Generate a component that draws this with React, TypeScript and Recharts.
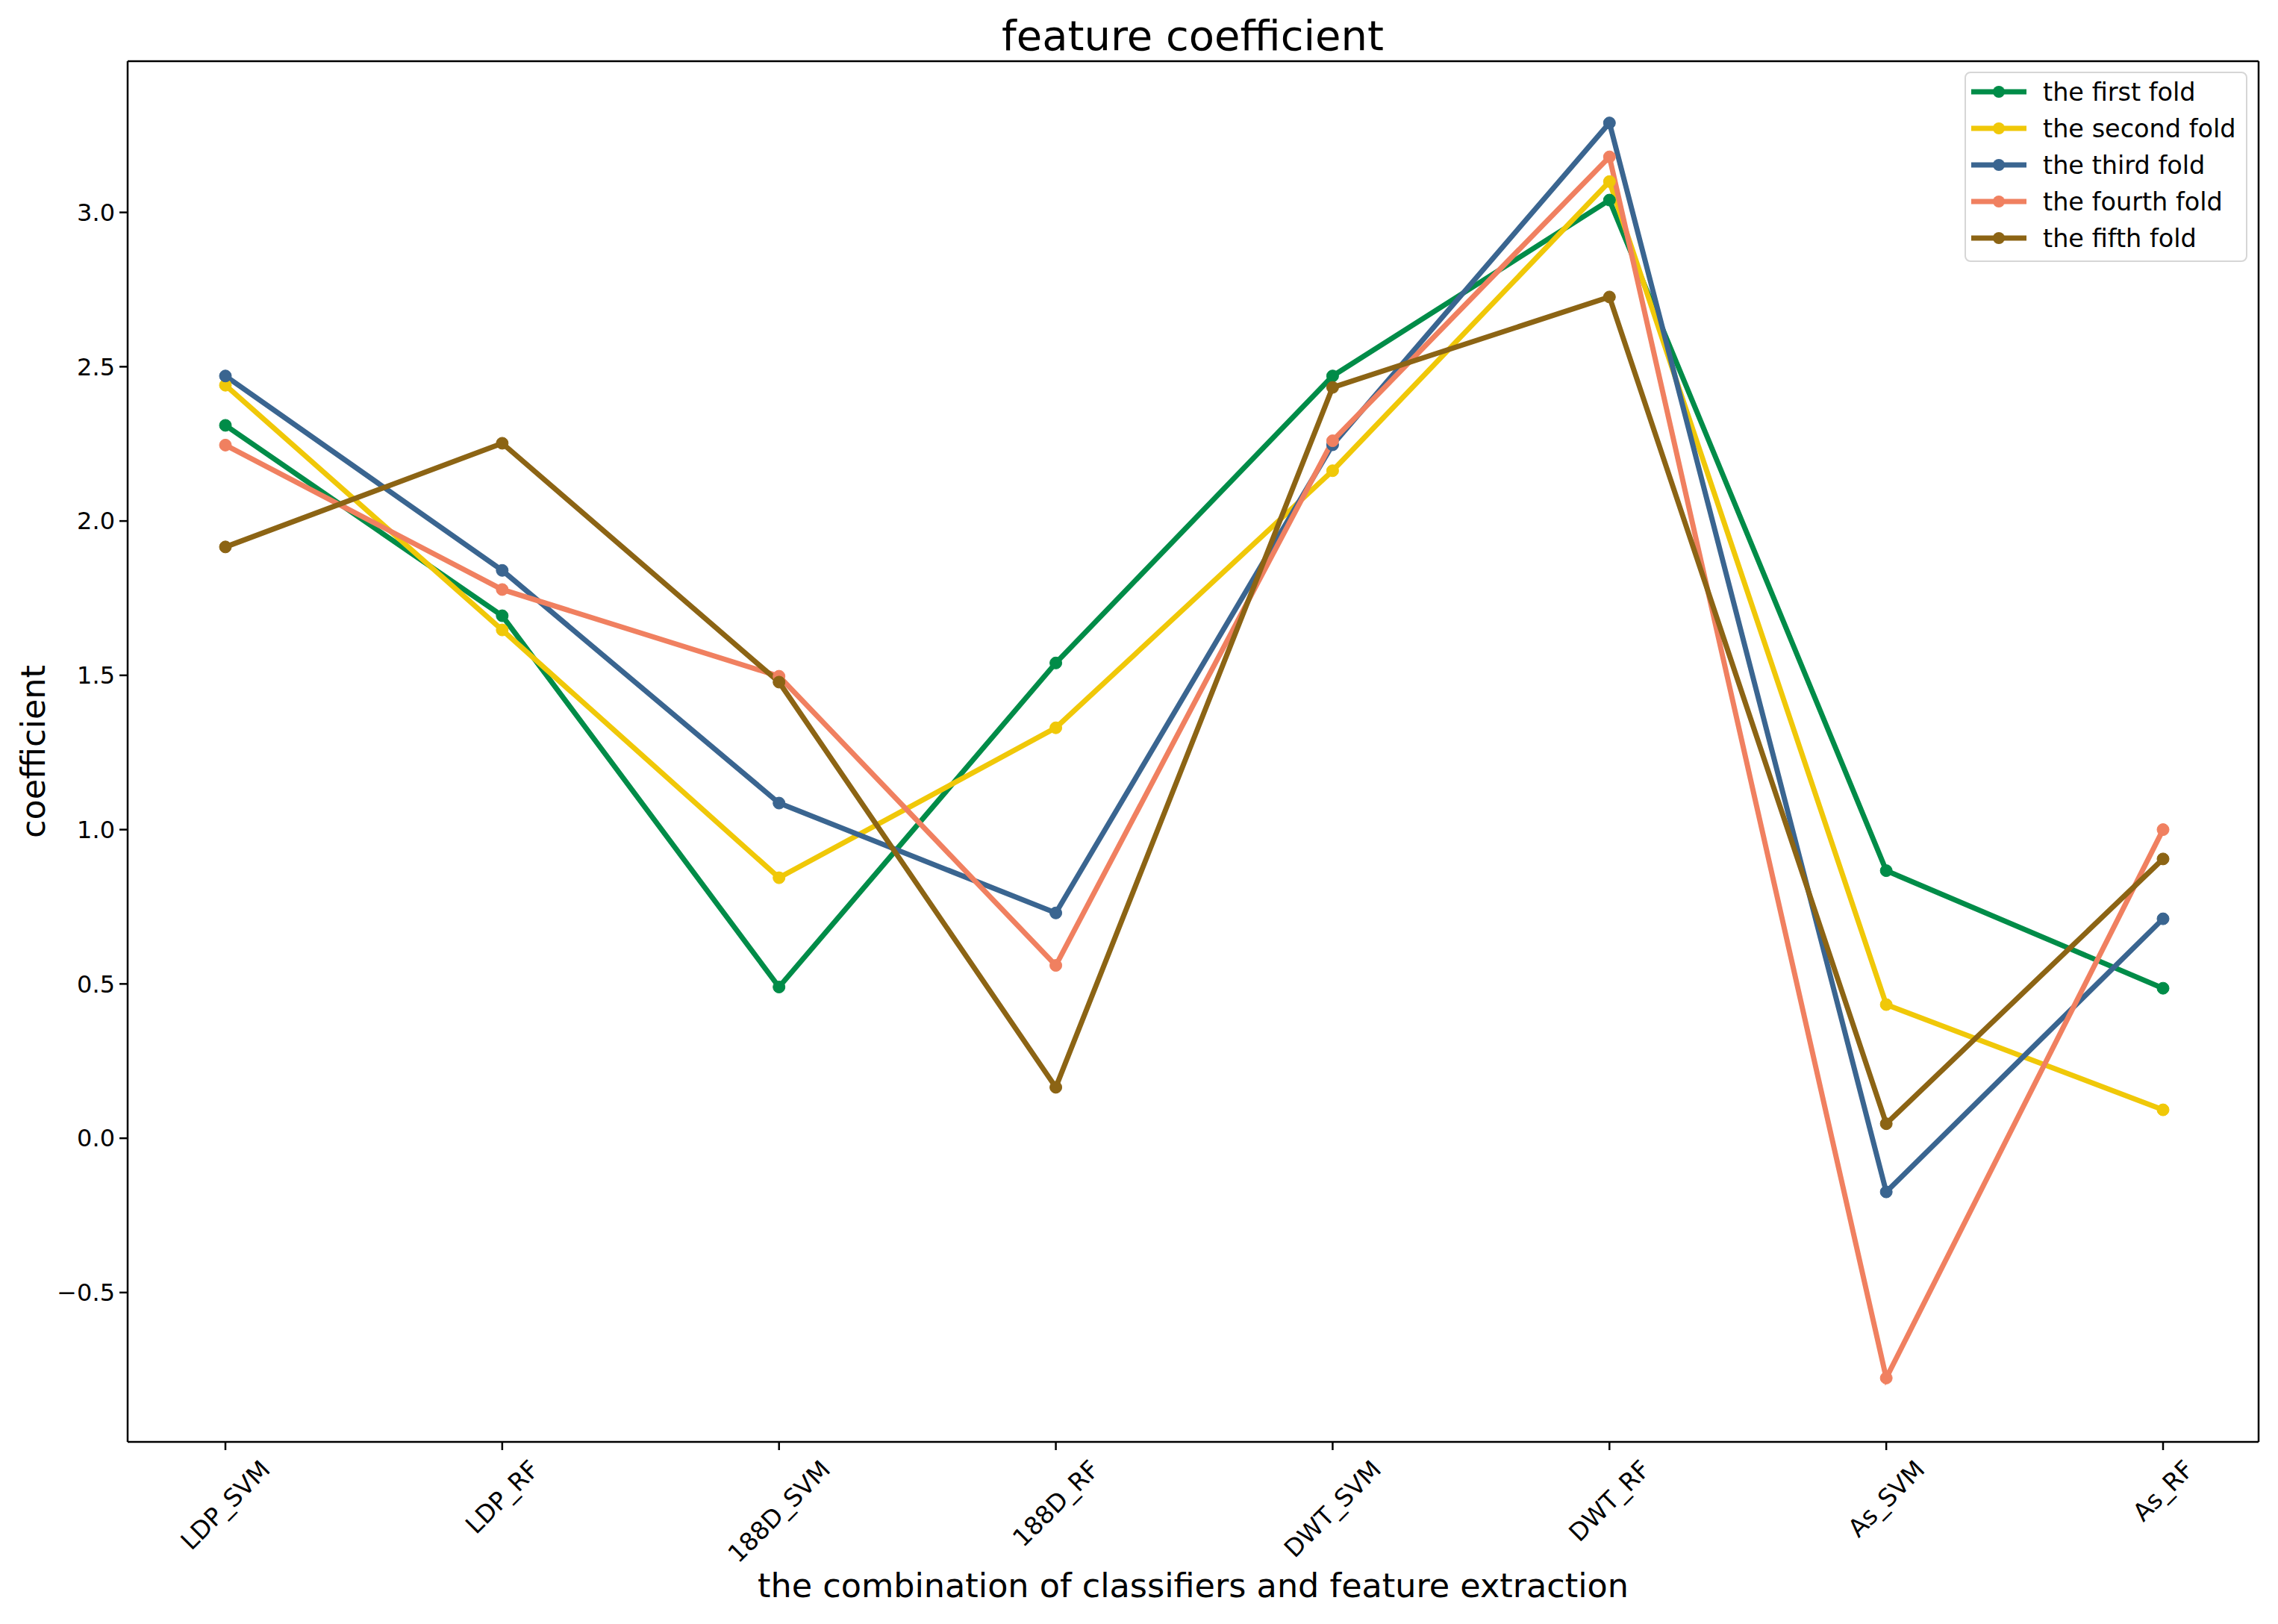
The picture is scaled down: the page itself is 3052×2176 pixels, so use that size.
import React from "react";
import { Legend, Line, LineChart, XAxis, YAxis } from "recharts";

const categories = ["LDP_SVM", "LDP_RF", "188D_SVM", "188D_RF", "DWT_SVM", "DWT_RF", "As_SVM", "As_RF"];
const firstFold = [2.31, 1.693, 0.49, 1.54, 2.47, 3.04, 0.867, 0.486];
const secondFold = [2.44, 1.647, 0.844, 1.33, 2.163, 3.1, 0.433, 0.092];
const thirdFold = [2.47, 1.84, 1.086, 0.73, 2.247, 3.29, -0.174, 0.711];
const fourthFold = [2.246, 1.778, 1.497, 0.56, 2.26, 3.18, -0.777, 1.0];
const fifthFold = [1.916, 2.252, 1.478, 0.165, 2.433, 2.726, 0.047, 0.905];
const yTicks = [-0.5, 0, 0.5, 1, 1.5, 2, 2.5, 3];

const series = [
  { key: "first", name: "the first fold", color: "#008c48", values: firstFold },
  { key: "second", name: "the second fold", color: "#f0c808", values: secondFold },
  { key: "third", name: "the third fold", color: "#3a6590", values: thirdFold },
  { key: "fourth", name: "the fourth fold", color: "#f08060", values: fourthFold },
  { key: "fifth", name: "the fifth fold", color: "#8c6414", values: fifthFold },
];

const data = categories.map((name, i) => {
  const row: Record<string, string | number> = { name };
  series.forEach((s) => (row[s.key] = s.values[i]));
  return row;
});

const FONT = "'DejaVu Sans', sans-serif";
const W = 3052;
const H = 2176;

let ctx: CanvasRenderingContext2D | null = null;
function textWidth(s: string, size: number) {
  if (!ctx) ctx = document.createElement("canvas").getContext("2d");
  if (!ctx) return s.length * size * 0.6;
  ctx.font = `${size}px 'DejaVu Sans'`;
  return ctx.measureText(s).width;
}

// rotated 45deg tick label, bounding box centred under the tick like matplotlib
function XTick(props: any) {
  const { x, y, payload } = props;
  const fs = 33;
  const w = textWidth(String(payload.value), fs);
  const h = fs * 1.17;
  const half = (w + h) / (2 * Math.SQRT2);
  const cx = x;
  const cy = y + 4 + half;
  return (
    <text
      x={cx}
      y={cy}
      transform={`rotate(-45 ${cx} ${cy})`}
      textAnchor="middle"
      dominantBaseline="central"
      fontSize={fs}
      fontFamily={FONT}
      fill="#000"
    >
      {payload.value}
    </text>
  );
}

const fmtY = (v: number) => (v < 0 ? "\u2212" + Math.abs(v).toFixed(1) : v.toFixed(1));

function XLabel({ viewBox }: any) {
  const cx = viewBox.x + viewBox.width / 2;
  return (
    <text x={cx} y={2140} textAnchor="middle" fontSize={44.5} fontFamily={FONT} fill="#000">
      the combination of classifiers and feature extraction
    </text>
  );
}

function YLabel({ viewBox }: any) {
  const cx = 60;
  const cy = viewBox.y + viewBox.height / 2;
  return (
    <text
      x={cx}
      y={cy}
      transform={`rotate(-90 ${cx} ${cy})`}
      textAnchor="middle"
      fontSize={44.5}
      fontFamily={FONT}
      fill="#000"
    >
      coefficient
    </text>
  );
}

function LegendBox() {
  const rowH = 49;
  return (
    <svg width={380} height={256} style={{ display: "block" }}>
      <rect x={1} y={1} width={377} height={253} rx={7} fill="#fff" fillOpacity={0.8} stroke="#d6d6d6" strokeWidth={2} />
      {series.map((s, i) => {
        const cy = 27 + i * rowH;
        return (
          <g key={s.key}>
            <line x1={9} x2={83} y1={cy} y2={cy} stroke={s.color} strokeWidth={7} />
            <circle cx={46} cy={cy} r={8} fill={s.color} />
            <text x={105} y={cy} dominantBaseline="central" fontSize={33.5} fontFamily={FONT} fill="#000">
              {s.name}
            </text>
          </g>
        );
      })}
    </svg>
  );
}

export default function App() {
  const axisStroke = { stroke: "#000", strokeWidth: 2.5 };
  return (
    <div style={{ position: "absolute", left: 0, top: 0, width: W, height: H, background: "#fff" }}>
      <LineChart width={W} height={H} data={data} margin={{ top: 81, right: 25, bottom: 0, left: 0 }}>
        <XAxis
          dataKey="name"
          height={244}
          interval={0}
          padding={{ left: 131, right: 128 }}
          tickSize={11}
          tickLine={axisStroke}
          axisLine={axisStroke}
          tick={<XTick />}
          label={<XLabel />}
        />
        <XAxis
          xAxisId="top"
          orientation="top"
          dataKey="name"
          height={1}
          padding={{ left: 131, right: 128 }}
          tick={false}
          tickLine={false}
          axisLine={axisStroke}
        />
        <YAxis
          type="number"
          width={171}
          domain={[-0.984, 3.49]}
          allowDataOverflow
          ticks={yTicks}
          interval={0}
          tickFormatter={fmtY}
          tickSize={11}
          tickMargin={6}
          tickLine={axisStroke}
          axisLine={axisStroke}
          tick={{ fontSize: 32, fontFamily: FONT, fill: "#000" }}
          label={<YLabel />}
        />
        <YAxis
          yAxisId="right"
          orientation="right"
          type="number"
          width={1}
          domain={[-0.984, 3.49]}
          allowDataOverflow
          tick={false}
          tickLine={false}
          axisLine={axisStroke}
        />
        <Legend
          layout="vertical"
          align="center"
          verticalAlign="middle"
          content={<LegendBox />}
          wrapperStyle={{ position: "absolute", left: 2632, top: 96, width: 380, height: 256 }}
        />
        {series.map((s) => (
          <Line
            key={s.key}
            type="linear"
            dataKey={s.key}
            name={s.name}
            stroke={s.color}
            strokeWidth={7}
            dot={{ r: 8, fill: s.color, stroke: s.color, strokeWidth: 1 }}
            activeDot={false}
            isAnimationActive={false}
          />
        ))}
      </LineChart>
      <svg
        width={W}
        height={100}
        style={{ position: "absolute", left: 0, top: 0, pointerEvents: "none" }}
      >
        <text x={1598} y={67} textAnchor="middle" fontSize={56} fontFamily={FONT} fill="#000">
          feature coefficient
        </text>
      </svg>
    </div>
  );
}
